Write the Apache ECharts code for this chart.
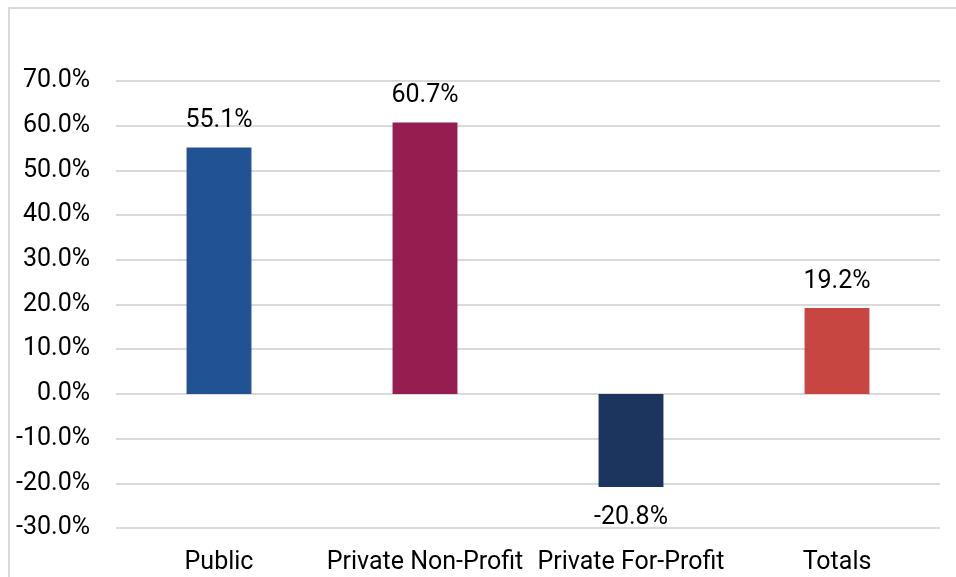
<!DOCTYPE html>
<html>
<head>
<meta charset="utf-8">
<script src="https://cdn.jsdelivr.net/npm/echarts@6/dist/echarts.min.js"></script>
<style>
    html,body{margin:0;padding:0;background:#fff;}
    #frame{position:absolute;left:8px;top:7px;width:960px;height:600px;border-left:2px solid #d9d9d9;border-top:2px solid #d9d9d9;}
    #chart{position:absolute;left:0;top:0;width:956px;height:577px;}
</style>
</head>
<body>
<div id="frame"></div>
<div id="chart"></div>
<script>
// categories and values
var categories = ['Public', 'Private Non-Profit', 'Private For-Profit', 'Totals'];
var values = [55.1, 60.7, -20.8, 19.2];
var barColors = ['#215294', '#951D50', '#1C355E', '#C84641'];
var yTicks = [-30, -20, -10, 0, 10, 20, 30, 40, 50, 60, 70];

var chart = echarts.init(document.getElementById('chart'));

var seriesData = [];
for (var i = 0; i < values.length; i++) {
    var neg = values[i] < 0;
    seriesData.push({
        value: values[i],
        itemStyle: { color: barColors[i] },
        label: { position: neg ? 'bottom' : 'top', distance: neg ? 18 : 14 }
    });
}

var option = {
    animation: false,
    textStyle: { fontFamily: 'Roboto' },
    grid: {
        left: 116,
        right: 16,
        top: 81,
        bottom: 49
    },
    xAxis: {
        type: 'category',
        data: categories,
        axisLine: { show: false },
        axisTick: { show: false },
        axisLabel: {
            color: '#000',
            fontSize: 25,
            margin: 22,
            interval: 0
        }
    },
    yAxis: {
        type: 'value',
        min: yTicks[0],
        max: yTicks[yTicks.length - 1],
        interval: 10,
        axisLine: { show: false },
        axisTick: { show: false },
        splitLine: {
            lineStyle: { color: '#d9d9d9', width: 2 }
        },
        axisLabel: {
            color: '#000',
            fontSize: 25,
            margin: 26,
            formatter: function (v) { return v.toFixed(1) + '%'; }
        }
    },
    series: [{
        type: 'bar',
        data: seriesData,
        barWidth: '31.5%',
        label: {
            show: true,
            color: '#000',
            fontSize: 25,
            formatter: function (p) { return p.value.toFixed(1) + '%'; }
        }
    }]
};
chart.setOption(option);
</script>
</body>
</html>
